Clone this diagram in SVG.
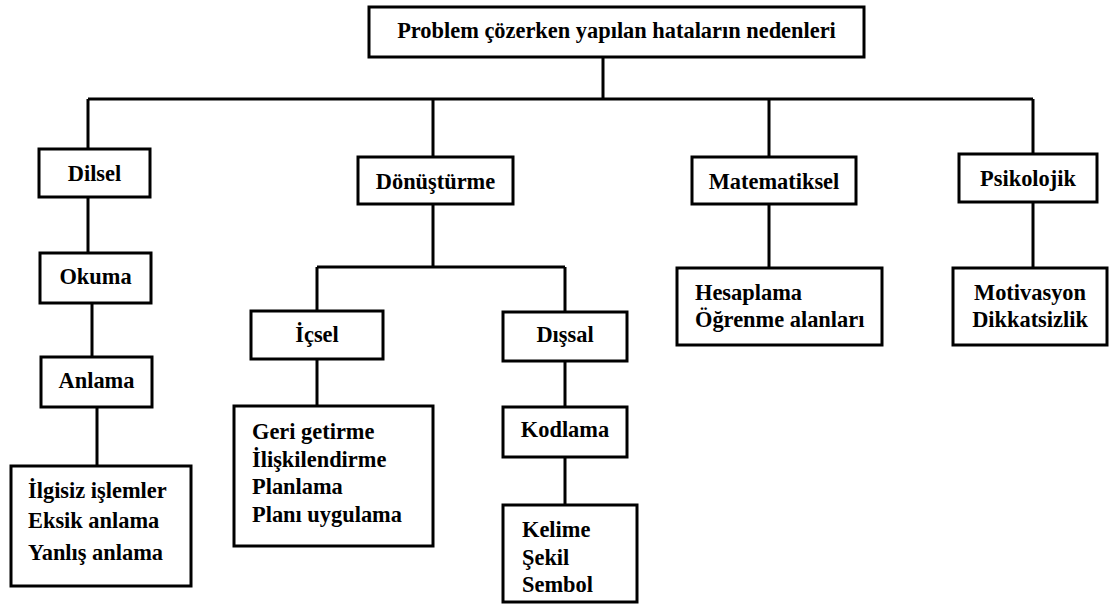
<svg xmlns="http://www.w3.org/2000/svg" width="1109" height="605" viewBox="0 0 1109 605">
<style>
.box{fill:#fff;stroke:#000;stroke-width:3}
.ln{fill:none;stroke:#000;stroke-width:3}
text{font-family:'Liberation Serif','Times New Roman',serif;font-weight:700;font-size:22.4px;fill:#000}
.c{text-anchor:middle}
</style>
<rect width="1109" height="605" fill="#fff"/>
<g id="connectors">
<path class="ln" d="M603,57V99M88,99H1033M88,99V149M433,99V157M769,99V157M1033,99V154"/>
<path class="ln" d="M88,197V253M92,303V357M97,407V466"/>
<path class="ln" d="M433,204V267M317,267H565M317,267V311M565,267V312M317,359V406M565,361V407M565,457V505"/>
<path class="ln" d="M769,204V268M1033,202V268"/>
</g>
<g id="root"><rect class="box" x="369" y="7" width="495" height="50"/><text class="c" x="616.5" y="38">Problem çözerken yapılan hataların nedenleri</text></g>
<g id="dilsel"><rect class="box" x="39" y="149" width="111" height="48"/><text class="c" x="94.5" y="181">Dilsel</text></g>
<g id="donusturme"><rect class="box" x="358" y="157" width="155" height="47"/><text class="c" x="435.5" y="189">Dönüştürme</text></g>
<g id="matematiksel"><rect class="box" x="692" y="157" width="164" height="47"/><text class="c" x="774" y="189">Matematiksel</text></g>
<g id="psikolojik"><rect class="box" x="959" y="154" width="138" height="48"/><text class="c" x="1028" y="186">Psikolojik</text></g>
<g id="okuma"><rect class="box" x="40" y="253" width="111" height="50"/><text class="c" x="95.5" y="284">Okuma</text></g>
<g id="anlama"><rect class="box" x="41" y="357" width="111" height="50"/><text class="c" x="96.5" y="388">Anlama</text></g>
<g id="dilsel-items"><rect class="box" x="11" y="466" width="180" height="120"/><text x="28" y="498">İlgisiz işlemler</text><text x="28" y="528">Eksik anlama</text><text x="28" y="560">Yanlış anlama</text></g>
<g id="icsel"><rect class="box" x="251" y="311" width="132" height="48"/><text class="c" x="317" y="342">İçsel</text></g>
<g id="icsel-items"><rect class="box" x="234" y="406" width="199" height="140"/><text x="252" y="439">Geri getirme</text><text x="252" y="467">İlişkilendirme</text><text x="252" y="494">Planlama</text><text x="252" y="522">Planı uygulama</text></g>
<g id="dissal"><rect class="box" x="503" y="312" width="124" height="49"/><text class="c" x="565" y="342">Dışsal</text></g>
<g id="kodlama"><rect class="box" x="503" y="407" width="124" height="50"/><text class="c" x="565" y="437">Kodlama</text></g>
<g id="kodlama-items"><rect class="box" x="503" y="505" width="134" height="97"/><text x="522" y="537">Kelime</text><text x="522" y="565">Şekil</text><text x="522" y="592">Sembol</text></g>
<g id="matematiksel-items"><rect class="box" x="677" y="268" width="205" height="77"/><text x="695" y="300">Hesaplama</text><text x="695" y="327">Öğrenme alanları</text></g>
<g id="psikolojik-items"><rect class="box" x="953" y="268" width="154" height="77"/><text class="c" x="1030" y="300">Motivasyon</text><text class="c" x="1030" y="327">Dikkatsizlik</text></g>
</svg>
